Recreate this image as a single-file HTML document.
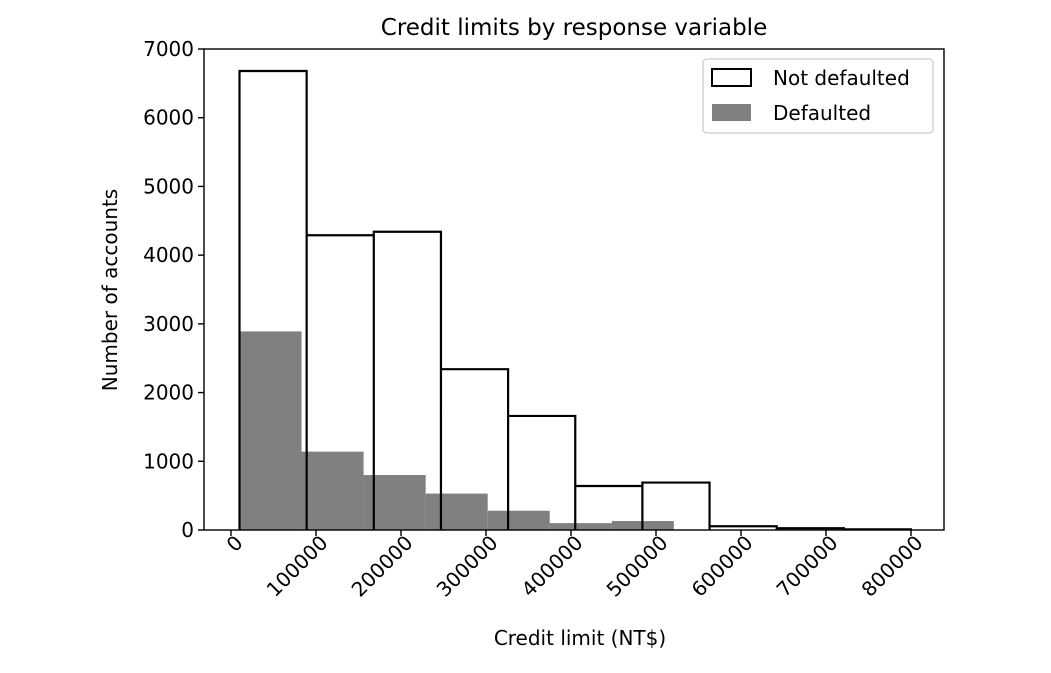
<!DOCTYPE html>
<html><head><meta charset="utf-8"><style>
body{margin:0;background:#fff;font-family:"Liberation Sans","DejaVu Sans",sans-serif;}
</style></head><body>
<svg width="1051" height="668" id="c" font-family="DejaVu Sans, Liberation Sans, sans-serif"></svg>
<script>
const binStartA=10000, binWidthA=79000;
const notDefaulted=[6680,4290,4340,2340,1660,640,690,55,25,10];
const binStartB=10000, binWidthB=73000;
const defaulted=[2890,1140,800,530,280,100,130,0,0,0];
const xTicks=[0,100000,200000,300000,400000,500000,600000,700000,800000];
const yTicks=[0,1000,2000,3000,4000,5000,6000,7000];
const L=204,R=944,T=49,B=530;
const sx=v=>231+v*(911-231)/800000;
const sy=v=>B-v*(B-T)/7000;
const svg=document.getElementById('c');
const NS='http://www.w3.org/2000/svg';
function mk(t,a,txt){const e=document.createElementNS(NS,t);for(const k in a)e.setAttribute(k,a[k]);if(txt!==undefined)e.textContent=txt;svg.appendChild(e);return e;}
defaulted.forEach((v,i)=>{if(v<=0)return;
 const x0=sx(binStartB+i*binWidthB),x1=sx(binStartB+(i+1)*binWidthB);
 const r=mk('rect',{x:x0,y:sy(v),width:x1-x0,height:B-sy(v),fill:'#808080'});
 
 
});
let d='M'+sx(binStartA)+','+B;
notDefaulted.forEach((v,i)=>{const x0=sx(binStartA+i*binWidthA),x1=sx(binStartA+(i+1)*binWidthA);d+=' L'+x0+','+sy(v)+' L'+x1+','+sy(v);});
d+=' L'+sx(binStartA+notDefaulted.length*binWidthA)+','+B;
notDefaulted.forEach((v,i)=>{if(i==0)return;const x0=sx(binStartA+i*binWidthA);d+=' M'+x0+','+B+' L'+x0+','+Math.max(sy(v),sy(notDefaulted[i-1]));});
const p=mk('path',{d:d,fill:'none',stroke:'#000','stroke-width':2.2});


mk('rect',{x:L,y:T,width:R-L,height:B-T,fill:'none',stroke:'#000','stroke-width':1.4,});
yTicks.forEach(v=>{const y=sy(v);mk('line',{x1:L-6,x2:L,y1:y,y2:y,stroke:'#000','stroke-width':1.4});
 const t=mk('text',{x:L-10,y:y+7,'text-anchor':'end','font-size':20},String(v));
 });
xTicks.forEach(v=>{const x=sx(v);mk('line',{x1:x,x2:x,y1:B,y2:B+6,stroke:'#000','stroke-width':1.4});
 const t=mk('text',{x:x+13,y:B+14,'text-anchor':'end','font-size':20,transform:`rotate(-45 ${x+13} ${B+14})`},String(v));
 });
mk('text',{x:574,y:35,'text-anchor':'middle','font-size':23,},'Credit limits by response variable');
mk('text',{x:580,y:645,'text-anchor':'middle','font-size':20,},'Credit limit (NT$)');
mk('text',{x:117,y:290,'text-anchor':'middle','font-size':20,transform:'rotate(-90 117 290)',},'Number of accounts');
mk('rect',{x:703,y:59,width:230,height:74,rx:4,fill:'#fff',stroke:'#ccc','stroke-width':1.3,});
mk('rect',{x:712,y:69,width:39,height:17,fill:'#fff',stroke:'#000','stroke-width':2,});
mk('text',{x:773,y:85,'font-size':20,},'Not defaulted');
mk('rect',{x:712,y:104,width:39,height:17,fill:'#808080',});
mk('text',{x:773,y:120,'font-size':20,},'Defaulted');
</script>
</body></html>
